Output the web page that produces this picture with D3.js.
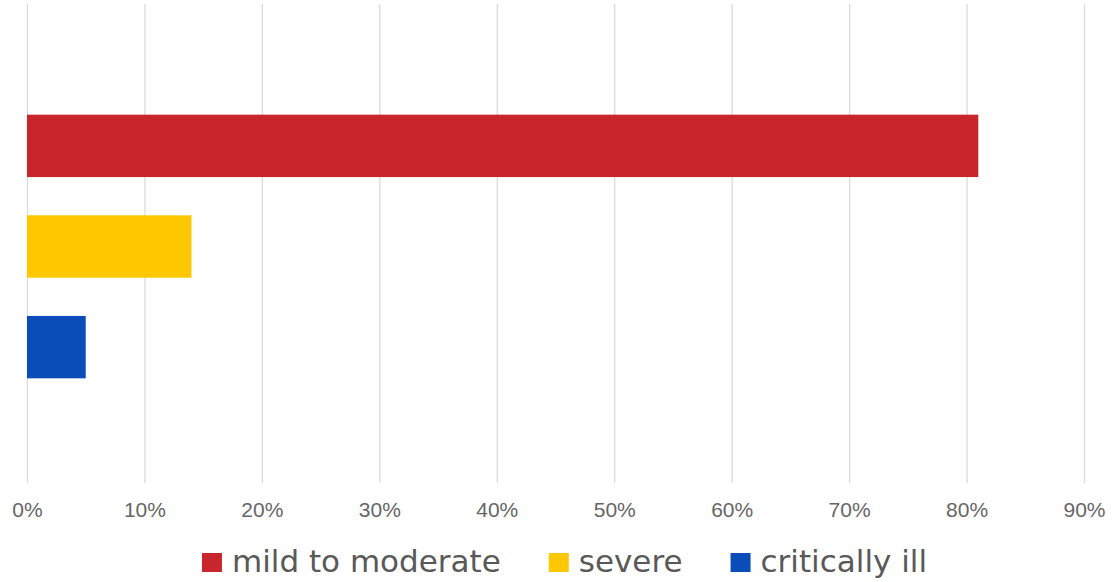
<!DOCTYPE html>
<html>
<head>
<meta charset="utf-8">
<script src="https://cdn.jsdelivr.net/npm/d3@7"></script>
<style>
  html, body { margin: 0; padding: 0; background: #fff; }
  svg { display: block; }
  .grid line { stroke: #d9d9d9; stroke-width: 1.2; }
  .axis text { font-family: "Liberation Sans", Arial, sans-serif; font-size: 21px; fill: #666; }
  .legend text { font-family: "DejaVu Sans", sans-serif; font-size: 31px; fill: #595959; }
</style>
</head>
<body>
<div id="chart"></div>
<script>
  const series = ["mild to moderate", "severe", "critically ill"];
  const values = [81, 14, 5];
  const colors = ["#c8262c", "#fec800", "#0a4cb8"];
  const tickValues = [0, 10, 20, 30, 40, 50, 60, 70, 80, 90];

  const width = 1113, height = 582;
  const plot = { left: 27, right: 1084, top: 4, bottom: 483 };

  const svg = d3.select("#chart").append("svg")
    .attr("width", width)
    .attr("height", height);

  const x = d3.scaleLinear().domain([0, 90]).range([plot.left, plot.right]);
  const y = d3.scaleBand()
    .domain(series)
    .range([plot.top + 3, plot.bottom + 3])
    .paddingInner(0.38)
    .paddingOuter(1.07);

  svg.append("g")
    .attr("class", "grid")
    .selectAll("line")
    .data(tickValues)
    .join("line")
    .attr("x1", (d) => x(d) + 0.5)
    .attr("x2", (d) => x(d) + 0.5)
    .attr("y1", plot.top)
    .attr("y2", plot.bottom);

  svg.append("g")
    .attr("class", "axis")
    .attr("transform", `translate(0,${plot.bottom})`)
    .call(d3.axisBottom(x).tickValues(tickValues).tickFormat((d) => d + "%").tickSize(0).tickPadding(19))
    .call((g) => g.select(".domain").remove())
    .call((g) => g.selectAll("text").attr("dy", "0.71em"));

  svg.append("g")
    .selectAll("rect")
    .data(series)
    .join("rect")
    .attr("x", x(0))
    .attr("y", (d) => y(d))
    .attr("width", (d, i) => x(values[i]) - x(0))
    .attr("height", y.bandwidth())
    .attr("fill", (d, i) => colors[i]);

  // legend, laid out by measured text widths and centred
  const legend = svg.append("g").attr("class", "legend");
  const items = legend.selectAll("g").data(series).join("g");
  items.append("rect")
    .attr("width", 20)
    .attr("height", 19)
    .attr("y", -19)
    .attr("fill", (d, i) => colors[i]);
  items.append("text")
    .attr("x", 30)
    .attr("y", 0)
    .text((d) => d);

  let offset = 0;
  const gap = 48;
  items.each(function () {
    const w = 30 + d3.select(this).select("text").node().getComputedTextLength();
    d3.select(this).attr("transform", `translate(${offset},0)`);
    offset += w + gap;
  });
  const total = offset - gap;
  legend.attr("transform", `translate(${564.5 - total / 2},572)`);
</script>
</body>
</html>
